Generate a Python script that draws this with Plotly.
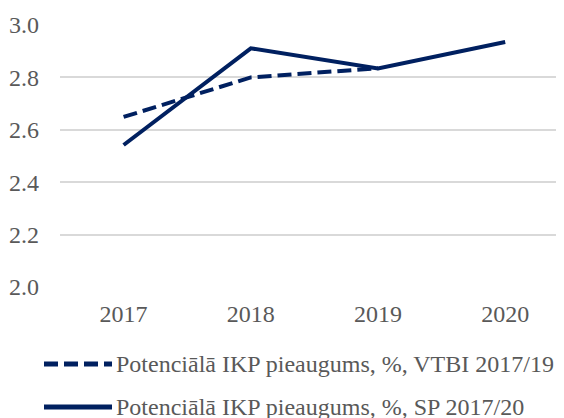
import plotly.graph_objects as go

years = ['2017', '2018', '2019', '2020']
vtbi = [2.649, 2.80, 2.835]          # VTBI 2017/19
sp = [2.542, 2.911, 2.834, 2.935]    # SP 2017/20
names = ['Potenciālā IKP pieaugums, %, VTBI 2017/19',
         'Potenciālā IKP pieaugums, %, SP 2017/20']
y_ticks = [2.0, 2.2, 2.4, 2.6, 2.8, 3.0]

navy = '#002060'
grey = '#595959'
font_family = 'Liberation Serif, Times New Roman, serif'
fsize = 24

# page has an 8px body margin, so the figure is 8px smaller than the window
OFF = 8
W, H = 564 - OFF, 418 - OFF
L, R, T, B = 60 - OFF, 0, 17, 131
pw, ph = W - L - R, H - T - B

fig = go.Figure()
fig.add_trace(go.Scatter(x=years[:3], y=vtbi, mode='lines', name=names[0],
                         line=dict(color=navy, width=4, dash='14px,6px')))
fig.add_trace(go.Scatter(x=years, y=sp, mode='lines', name=names[1],
                         line=dict(color=navy, width=4)))

# hand-made legend (longer keys than plotly's own), positions in window px
def px_x(p):
    return (p - OFF - L) / pw

def px_y(p):
    return (T + ph - (p - OFF)) / ph

for i, (nm, dash) in enumerate(zip(names, ['14px,6px', 'solid'])):
    yc = [364, 407][i]
    fig.add_shape(type='line', xref='paper', yref='paper',
                  x0=px_x(44), x1=px_x(112), y0=px_y(yc), y1=px_y(yc),
                  line=dict(color=navy, width=5, dash=dash))
    fig.add_annotation(text=nm, xref='paper', yref='paper',
                       x=px_x(114), y=px_y(yc), xanchor='left', yanchor='middle',
                       showarrow=False, font=dict(size=fsize, color=grey, family=font_family))

fig.update_layout(
    width=W, height=H,
    margin=dict(l=L, r=R, t=T, b=B, pad=0),
    plot_bgcolor='white', paper_bgcolor='white',
    showlegend=False,
    font=dict(family=font_family, size=fsize, color=grey),
)
fig.update_xaxes(type='category', range=[-0.5, -0.5 + pw / 127.2],
                 showgrid=False, showline=False, zeroline=False,
                 ticks='', ticklabelstandoff=10,
                 tickfont=dict(size=fsize, color=grey, family=font_family))
fig.update_yaxes(range=[2.0, 3.0], tickvals=y_ticks, ticktext=['%.1f' % v for v in y_ticks],
                 showgrid=True, gridcolor='#d9d9d9', gridwidth=1.5,
                 showline=False, zeroline=False, ticks='', ticklabelstandoff=20,
                 tickfont=dict(size=fsize, color=grey, family=font_family))

fig.write_html("out.html")
